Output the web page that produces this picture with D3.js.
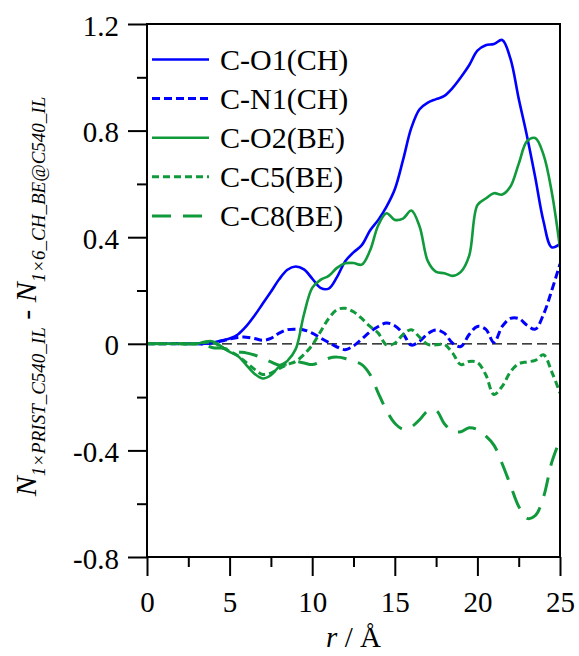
<!DOCTYPE html>
<html>
<head>
<meta charset="utf-8">
<script src="https://cdn.jsdelivr.net/npm/d3@7"></script>
<style>
  body { margin: 0; background: #fff; }
  svg { display: block; }
  svg text { font-family: "Liberation Serif", "DejaVu Serif", serif; }
</style>
</head>
<body>
<svg id="chart" width="579" height="656"></svg>
<script>
// Distance r (Å) at which each difference curve is sampled
const r = [0, 1, 2, 3, 3.5, 4, 4.5, 5, 5.5, 6, 6.5, 7, 7.5, 8, 8.5, 9, 9.5, 10, 10.5, 11, 11.5, 12,
  12.5, 13, 13.5, 14, 14.5, 15, 15.5, 16, 16.5, 17, 17.5, 18, 18.5, 19, 19.5, 20, 20.5, 21, 21.5,
  22, 22.5, 23, 23.5, 24, 24.5, 25];

// N(1×PRIST_C540_IL) − N(1×6_CH_BE@C540_IL) for each atom pair
const cO1CH = [0, 0, 0, 0, 0, 0.004, 0.012, 0.02, 0.035, 0.065, 0.105, 0.15, 0.195, 0.242, 0.278, 0.29,
  0.279, 0.245, 0.21, 0.207, 0.25, 0.31, 0.343, 0.37, 0.425, 0.465, 0.515, 0.58, 0.69, 0.81, 0.88,
  0.905, 0.918, 0.93, 0.96, 1.0, 1.045, 1.1, 1.12, 1.125, 1.14, 1.07, 0.92, 0.78, 0.625, 0.46, 0.362, 0.375];
const cN1CH = [0, 0, 0, 0, 0, 0.004, 0.01, 0.018, 0.024, 0.025, 0.02, 0.013, 0.02, 0.04, 0.053, 0.055,
  0.052, 0.04, 0.022, 0.005, -0.012, -0.022, -0.008, 0.018, 0.045, 0.065, 0.078, 0.068, 0.038, -0.005,
  0.01, 0.038, 0.052, 0.04, 0.002, -0.01, 0.035, 0.065, 0.055, 0.005, 0.065, 0.095, 0.095, 0.07, 0.055,
  0.11, 0.2, 0.3];
const cO2BE = [0, 0, 0, 0, 0.008, 0.009, -0.01, -0.03, -0.046, -0.079, -0.112, -0.13, -0.118, -0.085,
  -0.064, -0.02, 0.11, 0.21, 0.24, 0.255, 0.285, 0.302, 0.303, 0.297, 0.35, 0.445, 0.49, 0.465, 0.47,
  0.5, 0.44, 0.31, 0.27, 0.265, 0.255, 0.27, 0.33, 0.52, 0.545, 0.565, 0.56, 0.59, 0.675, 0.76, 0.772,
  0.71, 0.57, 0.36];
const cC5BE = [0, 0, 0, 0, 0.005, 0.005, -0.012, -0.028, -0.045, -0.07, -0.095, -0.115, -0.11, -0.093,
  -0.078, -0.066, -0.04, -0.005, 0.045, 0.095, 0.128, 0.133, 0.12, 0.095, 0.065, 0.04, -0.004, 0.002,
  0.035, 0.053, 0.025, -0.002, -0.004, -0.002, -0.035, -0.078, -0.066, -0.07, -0.115, -0.19, -0.16,
  -0.105, -0.075, -0.068, -0.062, -0.041, -0.105, -0.185];
const cC8BE = [0, 0, 0, 0, -0.005, -0.015, -0.016, -0.022, -0.03, -0.034, -0.042, -0.055, -0.068, -0.08,
  -0.075, -0.067, -0.072, -0.078, -0.068, -0.054, -0.05, -0.055, -0.065, -0.078, -0.115, -0.185, -0.25,
  -0.298, -0.32, -0.312, -0.285, -0.252, -0.25, -0.3, -0.328, -0.33, -0.315, -0.322, -0.345, -0.38,
  -0.45, -0.53, -0.61, -0.655, -0.645, -0.575, -0.445, -0.36];

const seriesNames = ["C-O1(CH)", "C-N1(CH)", "C-O2(BE)", "C-C5(BE)", "C-C8(BE)"];
const seriesValues = [cO1CH, cN1CH, cO2BE, cC5BE, cC8BE];

const xMajor = [0, 5, 10, 15, 20, 25];
const xMinor = [2.5, 7.5, 12.5, 17.5, 22.5];
const yMajor = [-0.8, -0.4, 0, 0.4, 0.8, 1.2];
const yMinor = [-0.6, -0.2, 0.2, 0.6, 1.0];

// Line styles per series
const blue = "#0000ff", green = "#119a3c";
const styles = [
  { color: blue, width: 2.6, dash: null },
  { color: blue, width: 3, dash: "8,4" },
  { color: green, width: 2.6, dash: null },
  { color: green, width: 3, dash: "7,4" },
  { color: green, width: 3, dash: "19,12" }
];

const svg = d3.select("#chart");
const pL = 147, pR = 560, pT = 24, pB = 557;

const x = d3.scaleLinear().domain([0, 25]).range([pL, pR]);
const y = d3.scaleLinear().domain([-0.8, 1.2]).range([pB, pT]);

svg.append("clipPath").attr("id", "plot-clip")
  .append("rect").attr("x", pL).attr("y", pT)
  .attr("width", pR - pL).attr("height", pB - pT);

// zero reference line
svg.append("line")
  .attr("x1", x(0)).attr("x2", x(25)).attr("y1", y(0)).attr("y2", y(0))
  .attr("stroke", "#000").attr("stroke-width", 1.3).attr("stroke-dasharray", "10,5");

// curves
const line = d3.line()
  .x((d, i) => x(r[i]))
  .y(d => y(d))
  .curve(d3.curveCatmullRom.alpha(0.5));

const plot = svg.append("g").attr("clip-path", "url(#plot-clip)");
seriesValues.forEach((vals, k) => {
  plot.append("path")
    .datum(vals)
    .attr("d", line)
    .attr("fill", "none")
    .attr("stroke", styles[k].color)
    .attr("stroke-width", styles[k].width)
    .attr("stroke-dasharray", styles[k].dash)
    .attr("stroke-linejoin", "round");
});

// axes
const fmt = d => d === 0 ? "0" : d.toFixed(1);

function styleAxis(g) {
  g.select(".domain").remove();
  g.attr("font-family", null).attr("font-size", 29);
  g.selectAll(".tick line").attr("stroke", "#000").attr("stroke-width", 2);
  g.selectAll(".tick text").attr("fill", "#000");
}

svg.append("g").attr("transform", `translate(0,${pB})`)
  .call(d3.axisBottom(x).tickValues(xMinor).tickSize(10).tickFormat(""))
  .call(styleAxis);
svg.append("g").attr("transform", `translate(0,${pB})`)
  .call(d3.axisBottom(x).tickValues(xMajor).tickSize(19).tickPadding(15).tickFormat(d => d))
  .call(styleAxis);

svg.append("g").attr("transform", `translate(${pL},0)`)
  .call(d3.axisLeft(y).tickValues(yMinor).tickSize(10).tickFormat(""))
  .call(styleAxis);
const yAx = svg.append("g").attr("transform", `translate(${pL},0)`)
  .call(d3.axisLeft(y).tickValues(yMajor).tickSize(19).tickPadding(9).tickFormat(fmt))
  .call(styleAxis);
yAx.selectAll(".tick text").attr("dy", "0.38em");

// frame
svg.append("rect")
  .attr("x", pL).attr("y", pT).attr("width", pR - pL).attr("height", pB - pT)
  .attr("fill", "none").attr("stroke", "#000").attr("stroke-width", 2);

// x-axis title
const xt = svg.append("text")
  .attr("x", (pL + pR) / 2).attr("y", 647)
  .attr("text-anchor", "middle")
  .attr("font-size", 29);
xt.append("tspan").attr("font-style", "italic").text("r");
xt.append("tspan").text(" / Å");

// y-axis title
const yt = svg.append("text")
  .attr("transform", `translate(36,${(pT + pB) / 2 + 6}) rotate(-90)`)
  .attr("text-anchor", "middle")
  .attr("font-size", 30);
yt.append("tspan").attr("font-style", "italic").text("N");
yt.append("tspan").attr("font-style", "italic").attr("font-size", 19).attr("dy", 9).text("1×PRIST_C540_IL");
yt.append("tspan").attr("dy", -9).text(" - ");
yt.append("tspan").attr("font-style", "italic").text("N");
yt.append("tspan").attr("font-style", "italic").attr("font-size", 19).attr("dy", 9).text("1×6_CH_BE@C540_IL");

// legend
const legend = svg.append("g");
seriesNames.forEach((name, k) => {
  const cy = 59.5 + k * 39.1;
  legend.append("line")
    .attr("x1", 152).attr("x2", 209).attr("y1", cy).attr("y2", cy)
    .attr("stroke", styles[k].color)
    .attr("stroke-width", styles[k].width)
    .attr("stroke-dasharray", styles[k].dash);
  legend.append("text")
    .attr("x", 220).attr("y", cy + 10.5)
    .attr("font-size", 30)
    .attr("fill", "#000")
    .text(name);
});
</script>
</body>
</html>
